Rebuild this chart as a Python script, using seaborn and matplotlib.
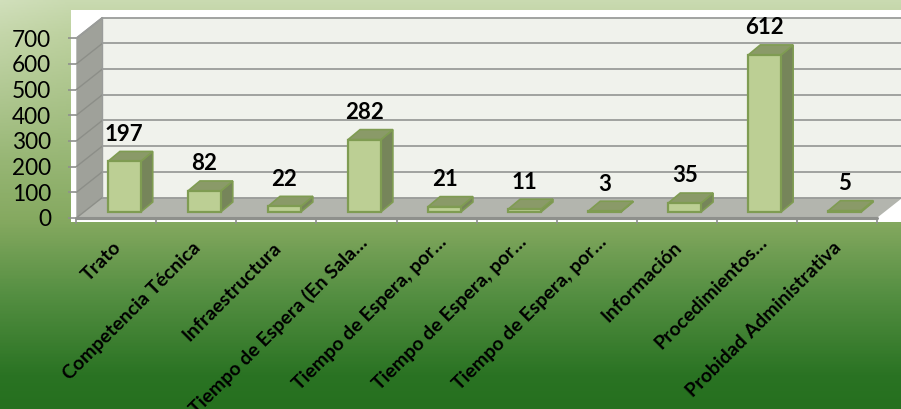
import numpy as np
import pandas as pd
import matplotlib
matplotlib.use("Agg")
import matplotlib.pyplot as plt
from matplotlib.colors import LinearSegmentedColormap
from matplotlib.patches import Polygon, Rectangle
from matplotlib.transforms import offset_copy
import seaborn as sns

categories = ["Trato", "Competencia Técnica", "Infraestructura", "Tiempo de Espera (En Sala…",
              "Tiempo de Espera, por…", "Tiempo de Espera, por…", "Tiempo de Espera, por…",
              "Información", "Procedimientos…", "Probidad Administrativa"]
values = [197, 82, 22, 282, 21, 11, 3, 35, 612, 5]
y_ticks = [0, 100, 200, 300, 400, 500, 600, 700]

W, H = 901, 409
sns.set_theme(style="white")
plt.rcParams["font.family"] = ["Lato", "DejaVu Sans"]
fig = plt.figure(figsize=(W / 100, H / 100), dpi=100)

# background
bg = fig.add_axes([0, 0, 1, 1], zorder=-1)
cmap = LinearSegmentedColormap.from_list("g", [(0, "#c9dab0"), (0.08, "#bdd19f"), (0.54, "#85a960"),
                                               (0.72, "#558f42"), (0.92, "#2a7323"), (1, "#26701f")])
rgb = cmap(np.linspace(0, 1, H))[:, None, :3] * np.ones((H, W, 3))
yy, xx = np.mgrid[0:H, 0:W]
glow = 0.14 * np.clip(1 - xx / 70, 0, 1) * np.clip(1 - yy / 160, 0, 1)
rgb = rgb + (1 - rgb) * glow[..., None]
bg.imshow(rgb, aspect="auto", extent=[0, W, H, 0])
bg.add_patch(Rectangle((71, 10), W - 71, 212, color="white", lw=0))
bg.set_xlim(0, W); bg.set_ylim(H, 0); bg.axis("off")

# main axes: front plane of the 3-D box
L, R, Y0, Y7 = 76.3, 876.8, 218.0, 38.3
ax = fig.add_axes([L / W, 1 - Y0 / H, (R - L) / W, (Y0 - Y7) / H])
ax.patch.set_alpha(0)

df = pd.DataFrame({"cat": [f"{i}" for i in range(len(values))], "val": values})
sns.barplot(data=df, x="cat", y="val", width=0.41, color="#bccf94", saturation=1, ax=ax,
            edgecolor="#7f9c52", linewidth=1.6, zorder=5)
ax.set_xlim(-0.5, len(values) - 0.5)
ax.set_ylim(0, 700)

ux = (R - L) / len(values)          # pixels per category
uy = (Y0 - Y7) / 700                # pixels per value unit
WX, WY = 26 / ux, 20.5 / uy         # wall depth in data units
x0, x1, y1 = -0.5, len(values) - 0.5, 700

side_wall = [(x0, 0), (x0 + WX, WY), (x0 + WX, y1 + WY), (x0, y1)]
back_wall = [(x0 + WX, WY), (x1 + WX, WY), (x1 + WX, y1 + WY), (x0 + WX, y1 + WY)]
floor = [(x0, 0), (x0 + WX, WY), (x1 + WX, WY), (x1, 0)]
ax.add_patch(Polygon(back_wall, fc="#f0f2ec", ec="none", clip_on=False, zorder=1))
ax.add_patch(Polygon(side_wall, fc="#9fa19a", ec="none", clip_on=False, zorder=1))
ax.add_patch(Polygon(floor, fc="#b3b5ae", ec="none", clip_on=False, zorder=1))
for v in y_ticks:
    ax.plot([x0 + WX, x1 + WX], [v + WY, v + WY], color="#9a9c9a", lw=1.3, clip_on=False, zorder=2)
    ax.plot([x0, x0 + WX], [v, v + WY], color="#8c8e88", lw=1.0, clip_on=False, zorder=2)
ax.plot([x0, x0 + WX], [y1, y1 + WY], color="#9a9c9a", lw=1.3, clip_on=False, zorder=2)
ax.plot([x0 + WX, x0 + WX], [WY, y1 + WY], color="#9a9c9a", lw=1.0, clip_on=False, zorder=2)
ax.plot([x0, x1], [0, 0], color="#8e908c", lw=2.2, clip_on=False, zorder=3)

# bars: shift and extrude the bars seaborn drew
trans = offset_copy(ax.transData, fig=fig, x=8 * 0.72, y=6 * 0.72, units="points")
DX, DY = 12 / ux, 10 / uy
for bar, v in zip(ax.patches[:len(values)], values):
    bar.set_transform(trans)
    a = bar.get_x(); b = a + bar.get_width()
    ax.add_patch(Polygon([(b, 0), (b + DX, DY), (b + DX, v + DY), (b, v)], transform=trans,
                         fc="#76855a", ec="#7f9c52", lw=1.2, clip_on=False, zorder=4))
    ax.add_patch(Polygon([(a, v), (a + DX, v + DY), (b + DX, v + DY), (b, v)], transform=trans,
                         fc="#8a9a68", ec="#7f9c52", lw=1.2, clip_on=False, zorder=4))
    bar.set_clip_on(False)
    ax.annotate(str(v), xy=((a + b) / 2, v), xycoords=trans, xytext=(0, 19.5), textcoords="offset points",
                ha="center", va="center", fontsize=16, fontweight="bold", color="black",
                annotation_clip=False, zorder=6)

ax.set_yticks(y_ticks)
ax.set_yticklabels([str(v) for v in y_ticks], fontsize=16.3, color="black")
ax.set_xticks(np.arange(len(values) + 1) - 0.5, minor=False)
ax.set_xticklabels([""] * (len(values) + 1))
ax.tick_params(axis="both", length=6, width=1.2, color="#8e908c", left=True, bottom=True)
ax.tick_params(axis="y", pad=12)
ax.tick_params(axis="x", length=4, pad=2)
ax.set_xlabel(""); ax.set_ylabel("")
for s in ax.spines.values():
    s.set_visible(False)

for i, c in enumerate(categories):
    shift = 4.0 if c.endswith("…") else 0.0
    ax.annotate(c, xy=(i, 0), xycoords=("data", "axes fraction"), xytext=(-3 + shift, -15 + shift), textcoords="offset points",
                rotation=45, rotation_mode="anchor", ha="right", va="top", fontsize=14,
                fontweight="bold", color="black", annotation_clip=False)

fig.savefig("out.png", dpi=100)
